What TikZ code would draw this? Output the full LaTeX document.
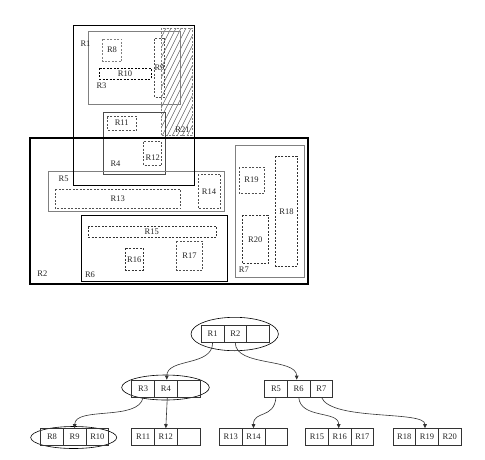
\documentclass[tikz,border=0pt]{standalone}
\usepackage{fontspec}
\setmainfont{Liberation Serif}
\usetikzlibrary{shapes.geometric,arrows.meta}
\definecolor{lgray}{HTML}{808080}
\definecolor{dgray}{HTML}{505050}
\tikzset{
  thickbox/.style={draw=black,line width=1.9pt},
  grayrect/.style={draw=lgray,line width=0.7pt},
  darkrect/.style={draw=black!80,line width=0.7pt},
  dbox/.style={draw=dgray,line width=0.6pt,dash pattern=on 2pt off 1.5pt},
  dboxk/.style={draw=black,line width=0.7pt,dash pattern=on 2pt off 1.5pt},
  lab/.style={font=\fontsize{8.5}{9}\selectfont,text=black!85,inner sep=0pt},
  cell/.style={draw=black!80,line width=0.6pt,minimum width=22.7pt,minimum height=17pt,inner sep=0pt,font=\fontsize{8.5}{9}\selectfont,text=black!85},
  oval/.style={ellipse,draw=black,line width=0.6pt,inner sep=0pt},
  link/.style={draw=black!80,line width=0.6pt,-{Triangle[length=4pt,width=3.6pt]}}
}
\newcommand{\tricell}[6]{%
  \node[cell] (#1-1) at (#2-22.7,#3) {#4};
  \node[cell] (#1-2) at (#2,#3) {#5};
  \node[cell] (#1-3) at (#2+22.7,#3) {#6};}
\begin{document}
\begin{tikzpicture}[x=1pt,y=-1pt]
\useasboundingbox (0,0) rectangle (485,459);
\fill[white] (0,0) rectangle (485,459);
% ---------- upper plan ----------
% hatched R21
\begin{scope}
  \clip (161,28) rectangle (192.3,135.3);
  \foreach \k in {0,...,26} {
    \draw[dgray,line width=0.45pt] (100+5*\k,140) -- (160+5*\k,20);
  }
\end{scope}
\draw[dbox,draw=lgray] (161,28) rectangle (192.3,135.3);
% R3
\draw[grayrect] (88.3,31.7) rectangle (180.5,104.5);
% R8, R10, R9
\draw[dbox,draw=lgray] (102.7,39.3) rectangle (121.7,61.7);
\draw[dboxk] (99.3,68.3) rectangle (151,79);
\draw[dbox] (154.3,38.7) rectangle (164,97);
% R4
\draw[draw=black!70,line width=0.7pt] (103.3,112.3) rectangle (165.3,174.3);
\draw[dbox] (107.3,116.7) rectangle (136.7,130);
\draw[dbox] (143.3,141.7) rectangle (161.7,165);
% R5
\draw[grayrect] (48.3,171.7) rectangle (224,211);
\draw[dbox] (55,189.3) rectangle (180.7,208.3);
\draw[dbox] (198.3,174.3) rectangle (220.7,208.3);
% R6
\draw[darkrect,draw=black] (81.7,215.3) rectangle (227.3,281);
\draw[dboxk,draw=black!80] (88.3,226.7) rectangle (216.7,237.3);
\draw[dboxk,draw=black!80] (125.3,248.3) rectangle (143.3,270);
\draw[dbox] (176.7,241) rectangle (202.7,270);
% R7
\draw[grayrect] (235.7,145) rectangle (304.3,277.3);
\draw[dbox] (239,167.3) rectangle (264.3,193.3);
\draw[dboxk,draw=black!80] (275.7,156) rectangle (297.3,266);
\draw[dboxk,draw=black!80] (242.3,215) rectangle (268.3,263.3);
% thick outer boxes
\draw[thickbox] (73.5,25.5) rectangle (194.5,185.5);
\draw[thickbox] (30,138.3) rectangle (308.3,284.3);
% labels
\node[lab] (l1) at (85.5,44) {R1};
\node[lab] (l8) at (112,49.5) {R8};
\node[lab] (l10) at (125,74) {R10};
\node[lab] (l3) at (101.5,86) {R3};
\node[lab] (l9) at (159.5,68) {R9};
\node[lab] (l21) at (182.5,130) {R21};
\node[lab] (l11) at (121.7,122.7) {R11};
\node[lab] (l12) at (152.7,157.3) {R12};
\node[lab] (l4) at (115.5,164) {R4};
\node[lab] (l5) at (63.7,178.3) {R5};
\node[lab] (l13) at (117.7,198.3) {R13};
\node[lab] (l14) at (209,191.7) {R14};
\node[lab] (l15) at (151.7,231.7) {R15};
\node[lab] (l16) at (134.3,259.3) {R16};
\node[lab] (l17) at (189.5,256) {R17};
\node[lab] (l6) at (90,275) {R6};
\node[lab] (l2) at (42.3,274) {R2};
\node[lab] (l7) at (243.8,270) {R7};
\node[lab] (l19) at (251.5,180) {R19};
\node[lab] (l18) at (286.5,211.7) {R18};
\node[lab] (l20) at (255.3,239.3) {R20};
% ---------- tree ----------
\node[oval,minimum width=87.4pt,minimum height=33.4pt] (e1) at (234.7,334) {};
\node[oval,minimum width=87.6pt,minimum height=25pt] (e2) at (165.5,387.5) {};
\node[oval,minimum width=86pt,minimum height=22pt] (e3) at (73.7,437.5) {};
\tricell{root}{235.3}{334}{R1}{R2}{}
\tricell{na}{165.8}{388.5}{R3}{R4}{}
\tricell{nb}{298.7}{388.5}{R5}{R6}{R7}
\tricell{la}{74.7}{437}{R8}{R9}{R10}
\tricell{lb}{165.8}{437}{R11}{R12}{}
\tricell{lc}{253.5}{437}{R13}{R14}{}
\tricell{ld}{339.7}{437}{R15}{R16}{R17}
\tricell{le}{427}{437}{R18}{R19}{R20}
% connectors
\path[link] (root-1.south) .. controls ++(0,24) and ++(0,-22) .. ([xshift=1pt]na-2.north);
\path[link] (root-2.south) .. controls ++(0,24) and ++(0,-22) .. ([xshift=-2pt]nb-2.north);
\path[link] (na-1.south) .. controls ++(-4,24) and ++(0,-22) .. (la-2.north);
\path[link] ([xshift=1.5pt]na-2.south) -- (lb-2.north);
\path[link] (nb-1.south) .. controls ++(-2,22) and ++(0,-18) .. (lc-2.north);
\path[link] (nb-2.south) .. controls ++(2,22) and ++(0,-18) .. ([xshift=-1pt]ld-2.north);
\path[link] (nb-3.south) .. controls ++(10,24) and ++(0,-18) .. ([xshift=-2pt]le-2.north);
\end{tikzpicture}
\end{document}
